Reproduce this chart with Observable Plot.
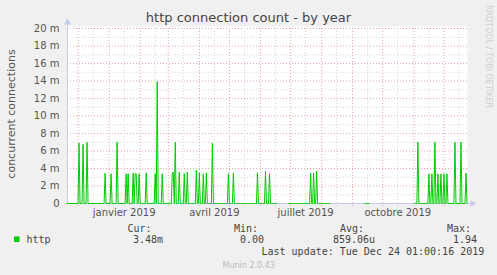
<!DOCTYPE html>
<html><head><meta charset="utf-8">
<script src="https://cdn.jsdelivr.net/npm/d3@7"></script>
<script src="https://cdn.jsdelivr.net/npm/@observablehq/plot@0.6"></script>
<style>
html,body{margin:0;padding:0;background:#f0f0f0;}
#chart{width:497px;height:275px;}
</style>
</head><body><div id="chart"></div>
<script>
// ---- text ----
const titleText = "http connection count - by year";
const yLabelText = "concurrent connections";
const seriesName = "http";
const legendHeaders = ["Cur:", "Min:", "Avg:", "Max:"];
const legendValues = ["3.48m", "0.00", "859.06u", "1.94"];
const lastUpdateText = "Last update: Tue Dec 24 01:00:16 2019";
const footerText = "Munin 2.0.43";
const sideText = "RRDTOOL / TOBI OETIKER";

// ---- time range ----
const rangeStart = "2018-11-20T12:00:00Z";
const rangeEnd = "2019-12-24T12:00:00Z";

// ---- data (values in milli-connections) ----
const spikeDates = [
  "2018-12-02","2018-12-06","2018-12-10","2018-12-28",
  "2019-01-03","2019-01-09","2019-01-18","2019-01-20","2019-01-25","2019-01-27","2019-01-28","2019-01-31",
  "2019-02-07","2019-02-16","2019-02-18","2019-02-23",
  "2019-03-05","2019-03-06","2019-03-08","2019-03-12","2019-03-17","2019-03-20","2019-03-29",
  "2019-04-01","2019-04-05","2019-04-08","2019-04-14","2019-04-30",
  "2019-05-05","2019-05-29","2019-06-06","2019-06-10",
  "2019-07-21","2019-07-24","2019-07-27",
  "2019-11-05","2019-11-16","2019-11-19","2019-11-22","2019-11-25","2019-11-28",
  "2019-12-01","2019-12-04","2019-12-12","2019-12-18","2019-12-23"
];
const spikeValues = [
  6.9, 6.75, 7.0, 3.46,
  3.4, 7.0, 3.4, 3.4, 3.5, 3.4, 3.4, 3.4,
  3.5, 3.4, 13.9, 3.4,
  3.4, 3.6, 7.0, 3.6, 3.4, 3.6, 3.8,
  3.5, 3.4, 3.5, 6.9, 3.4,
  3.5, 3.5, 3.7, 3.4,
  3.5, 3.5, 3.7,
  7.0, 3.4, 3.4, 7.0, 3.4, 3.4,
  3.4, 3.4, 7.0, 7.0, 3.48
];
// days with no data (unknown)
const gapStarts = ["2019-06-18", "2019-08-10", "2019-09-18"];
const gapEnds   = ["2019-06-28", "2019-09-12", "2019-11-01"];

// ---- ticks ----
const yTicks = [0, 2, 4, 6, 8, 10, 12, 14, 16, 18, 20];
const yMinorTicks = [1, 3, 5, 7, 9, 11, 13, 15, 17, 19];
const xTickDates = ["2019-01-16", "2019-04-16", "2019-07-16", "2019-10-16"];
const xTickLabels = ["janvier 2019", "avril 2019", "juillet 2019", "octobre 2019"];

// ---- build table ----
const t0 = new Date(rangeStart), t1 = new Date(rangeEnd);
const spikeMap = new Map(spikeDates.map((d, i) => [+new Date(d), spikeValues[i]]));
const gaps = gapStarts.map((s, i) => [+new Date(s), +new Date(gapEnds[i])]);
const days = d3.utcDay.range(d3.utcDay.floor(t0), d3.utcDay.offset(d3.utcDay.floor(t1), 1));
const series = days.map(d => {
  const k = +d;
  let v = spikeMap.has(k) ? spikeMap.get(k) : 0;
  if (gaps.some(([a, b]) => k >= a && k <= b)) v = NaN;
  return {date: d, value: v};
});

const monthStarts = d3.utcMonth.range(t0, t1);
const midMonths = d3.utcMonth.range(d3.utcMonth.floor(t0), t1).map(d => d3.utcDay.offset(d, 15)).filter(d => d > t0 && d < t1);
const xTickMap = new Map(xTickDates.map((d, i) => [+new Date(d), xTickLabels[i]]));

const axisColor = "#c6cbee";
const majorColor = "#e8a4a4";
const minorColor = "#d4d4d4";

const svg = Plot.plot({
  width: 497, height: 275,
  marginLeft: 67, marginRight: 30, marginTop: 28, marginBottom: 72,
  style: {background: "#f0f0f0", fontFamily: "DejaVu Sans, sans-serif", overflow: "visible"},
  x: {type: "utc", domain: [t0, t1]},
  y: {domain: [0, 20]},
  marks: [
    Plot.frame({fill: "white", stroke: null, insetTop: -2}),
    Plot.ruleY(yMinorTicks, {stroke: minorColor, strokeDasharray: "1,2"}),
    Plot.ruleY(yTicks.filter(v => v > 0), {stroke: majorColor, strokeDasharray: "1,2"}),
    Plot.ruleX(midMonths, {stroke: minorColor, strokeDasharray: "1,2", insetBottom: -3}),
    Plot.ruleX(monthStarts, {stroke: majorColor, strokeDasharray: "1,2", insetBottom: -3}),
    Plot.ruleX([t0], {stroke: axisColor, insetTop: -6}),
    Plot.ruleY([0], {stroke: axisColor, insetRight: -5}),
    Plot.dot([{x: t0, y: 20}], {x: "x", y: "y", symbol: "triangle", r: 2.6, fill: axisColor, stroke: null, dy: -6}),
    Plot.dot([{x: t1, y: 0}], {x: "x", y: "y", symbol: "triangle", rotate: 90, r: 2.6, fill: axisColor, stroke: null, dx: 5}),
    Plot.line(series, {x: "date", y: "value", stroke: "#00cc00", strokeWidth: 1}),
    Plot.axisY(yTicks, {tickSize: 0, tickPadding: 8, fontSize: 10, color: "#555", label: null,
      tickFormat: v => v === 0 ? "0" : `${v} m`}),
    Plot.axisX(xTickDates.map(d => new Date(d)), {tickSize: 0, tickPadding: 5, fontSize: 10, color: "#555", label: null,
      tickFormat: d => xTickMap.get(+d)})
  ]
});

const s = d3.select(svg);
function addText(x, y, str, opts) {
  const t = s.append("text").attr("x", x).attr("y", y)
    .attr("text-anchor", opts.anchor || "start")
    .attr("font-size", opts.size || 10)
    .attr("font-family", opts.family || "DejaVu Sans, sans-serif")
    .attr("fill", opts.fill || "#444")
    .text(str);
  if (opts.transform) t.attr("transform", opts.transform).attr("x", 0).attr("y", 0);
  return t;
}
addText(248.5, 22, titleText, {anchor: "middle", size: 13, fill: "#444"});
addText(0, 0, yLabelText, {anchor: "middle", size: 11, fill: "#555", transform: "translate(15,114) rotate(-90)"});
addText(0, 0, sideText, {anchor: "start", size: 8, fill: "#cfcfcf", transform: "translate(485.5,5) rotate(90)"});

const mono = "DejaVu Sans Mono, monospace";
const headerX = [127.5, 234, 340, 447];
const valueX = [133, 240, 333, 453];
legendHeaders.forEach((h, i) => addText(headerX[i], 232, h, {family: mono}));
legendValues.forEach((v, i) => addText(valueX[i], 243, v, {family: mono}));
s.append("rect").attr("x", 14).attr("y", 236.5).attr("width", 5.5).attr("height", 5.5).attr("fill", "#00cc00");
addText(26.5, 243, seriesName, {family: mono});
addText(261.5, 254.5, lastUpdateText, {family: mono});
addText(222.5, 268, footerText, {size: 8, fill: "#bbb"});

document.getElementById("chart").appendChild(svg);
</script>
</body></html>
